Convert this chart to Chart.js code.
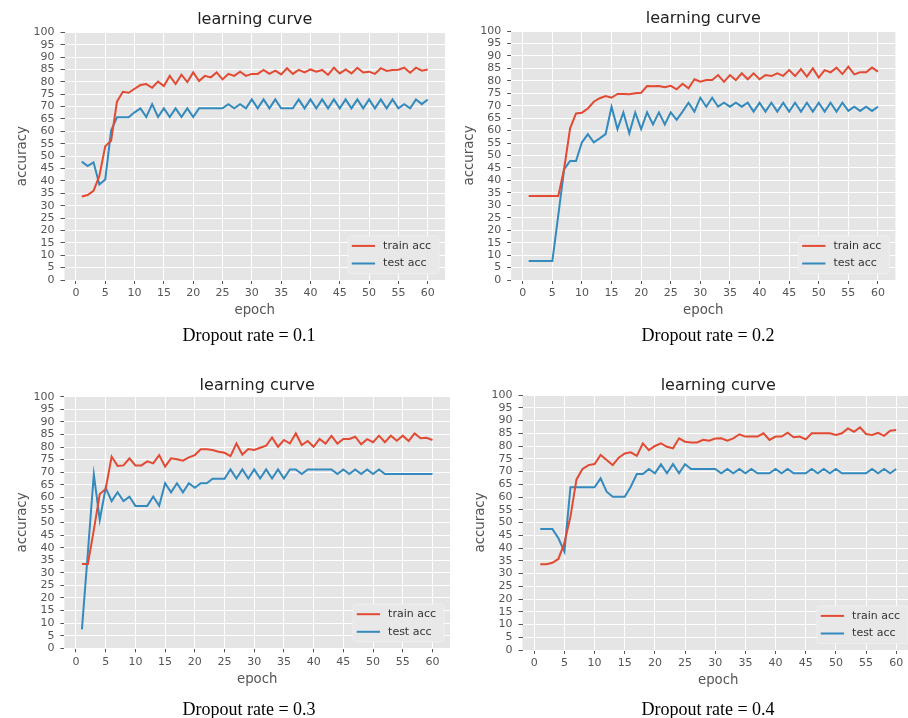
<!DOCTYPE html>
<html><head><meta charset="utf-8">
<script src="https://cdn.jsdelivr.net/npm/chart.js@4.4.0/dist/chart.umd.min.js"></script>
<style>
html,body{margin:0;padding:0;background:#fff;width:908px;height:718px;overflow:hidden;position:relative;}
canvas{position:absolute;left:0;top:0;}
.cap{position:absolute;font-family:"Liberation Serif","Times New Roman",serif;font-size:18px;color:#000;white-space:nowrap;transform:translate(-50%,-50%);}
</style></head><body>
<canvas id="c1" width="1000" height="718" style="width:1000px;height:718px"></canvas>
<canvas id="c2" width="1000" height="718" style="width:1000px;height:718px"></canvas>
<canvas id="c3" width="1000" height="718" style="width:1000px;height:718px"></canvas>
<canvas id="c4" width="1000" height="718" style="width:1000px;height:718px"></canvas>
<div class="cap" style="left:249px;top:335px">Dropout rate = 0.1</div>
<div class="cap" style="left:708px;top:335px">Dropout rate = 0.2</div>
<div class="cap" style="left:249px;top:709px">Dropout rate = 0.3</div>
<div class="cap" style="left:708px;top:709px">Dropout rate = 0.4</div>
<script>
const epochs = [1,2,3,4,5,6,7,8,9,10,11,12,13,14,15,16,17,18,19,20,21,22,23,24,25,26,27,28,29,30,31,32,33,34,35,36,37,38,39,40,41,42,43,44,45,46,47,48,49,50,51,52,53,54,55,56,57,58,59,60];
const xTicks = [0,5,10,15,20,25,30,35,40,45,50,55,60];
const yTicks = [0,5,10,15,20,25,30,35,40,45,50,55,60,65,70,75,80,85,90,95,100];
const seriesLabels = ['train acc','test acc'];
const titleText = 'learning curve';
const xTitle = 'epoch';
const yTitle = 'accuracy';

const train01 = [33.7,34.3,36.0,42.0,54.0,56.2,72.0,76.0,75.6,77.2,78.7,79.1,77.6,80.1,78.3,82.4,79.1,82.9,79.9,83.8,80.3,82.4,81.8,83.8,81.0,83.2,82.4,84.1,82.4,83.2,83.2,84.8,83.2,84.5,83.0,85.5,83.2,84.8,83.8,85.0,84.1,84.8,82.8,85.7,83.4,85.0,83.4,85.7,83.8,84.1,83.2,85.5,84.4,84.8,84.9,85.7,83.7,85.7,84.5,85.0];
const test01 = [47.8,46.0,47.5,38.6,40.6,60.3,65.7,65.7,65.7,67.7,69.3,65.8,71.0,65.8,69.3,65.8,69.3,65.8,69.3,65.8,69.3,69.3,69.3,69.3,69.3,71.0,69.3,71.0,69.3,72.9,69.3,72.9,69.3,72.9,69.3,69.3,69.3,72.9,69.3,72.9,69.3,72.9,69.3,72.9,69.3,72.9,69.3,72.9,69.3,72.9,69.3,72.9,69.3,72.9,69.3,71.0,69.3,72.9,71.0,72.9];

const train02 = [33.7,33.7,33.7,33.7,33.7,33.7,44.8,60.9,66.9,67.2,68.9,71.6,73.0,73.9,73.2,74.7,74.7,74.6,75.0,75.2,77.9,77.8,77.9,77.4,78.0,76.6,78.8,77.0,80.6,79.6,80.3,80.3,82.3,79.6,82.3,80.3,83.0,80.6,83.0,80.6,82.3,81.9,83.0,82.0,84.3,81.9,84.7,81.7,85.0,81.3,84.3,83.4,85.3,82.7,85.7,82.6,83.4,83.4,85.3,83.7];
const test02 = [7.6,7.6,7.6,7.6,7.6,26.0,44.5,47.8,47.8,55.3,58.6,55.3,56.9,58.6,69.6,60.6,67.3,58.9,67.3,60.6,67.3,62.5,67.3,62.5,67.3,64.3,67.6,71.2,67.6,73.2,69.6,73.2,69.6,71.2,69.6,71.2,69.6,71.2,67.6,71.2,67.6,71.2,67.6,71.2,67.6,71.2,67.6,71.2,67.6,71.2,67.6,71.2,67.6,71.2,67.9,69.6,67.9,69.6,67.9,69.6];

const train03 = [33.5,33.5,47.0,61.3,63.3,76.2,72.5,72.7,75.5,72.7,72.7,74.3,73.5,76.8,72.2,75.5,75.1,74.6,75.9,76.8,79.1,79.1,78.8,78.1,77.7,76.4,81.4,77.0,79.2,78.8,79.7,80.5,83.8,80.1,82.8,81.4,85.4,80.8,82.4,80.1,83.2,81.4,84.4,81.4,83.2,83.2,84.1,81.1,83.1,81.9,84.5,81.9,84.5,82.5,84.5,82.4,85.4,83.5,83.7,82.8];
const test03 = [7.5,38.0,69.1,51.0,63.8,58.5,62.0,58.5,60.3,56.6,56.6,56.6,60.3,56.6,65.6,62.0,65.6,62.0,65.6,63.8,65.6,65.6,67.4,67.4,67.4,71.1,67.5,71.1,67.5,71.1,67.5,71.1,67.5,71.1,67.5,71.1,71.1,69.3,71.1,71.1,71.1,71.1,71.1,69.3,71.1,69.3,71.1,69.3,71.1,69.3,71.1,69.3,69.3,69.3,69.3,69.3,69.3,69.3,69.3,69.3];

const train04 = [33.6,33.6,34.2,35.7,42.0,52.3,66.9,71.0,72.5,72.9,76.5,74.5,72.5,75.4,77.1,77.5,76.1,81.0,78.4,80.0,81.0,79.7,79.1,83.0,81.7,81.4,81.4,82.4,82.1,82.9,83.0,82.1,83.0,84.6,83.7,83.7,83.7,85.0,82.4,83.7,83.7,85.2,83.4,83.7,82.6,85.0,85.0,85.0,85.0,84.3,85.0,86.9,85.6,87.3,84.7,84.3,85.2,84.0,86.0,86.3];
const test04 = [47.5,47.5,47.5,43.8,38.6,63.8,63.8,63.8,63.8,63.8,67.3,62.1,60.1,60.1,60.1,64.0,69.0,69.0,71.0,69.3,72.8,69.3,72.9,69.3,72.9,71.0,71.0,71.0,71.0,71.0,69.3,71.0,69.3,71.0,69.3,71.0,69.3,69.3,69.3,71.0,69.3,71.0,69.3,69.3,69.3,71.0,69.3,71.0,69.3,71.0,69.3,69.3,69.3,69.3,69.3,71.0,69.3,71.0,69.3,71.0];

const RED = '#E24A33', BLUE = '#348ABD';
Chart.defaults.font.family = '"DejaVu Sans", sans-serif';
Chart.defaults.animation = false;

const bgPlugin = {
  id: 'axesBg',
  beforeDraw(chart) {
    const {ctx, chartArea: a} = chart;
    ctx.save();
    ctx.fillStyle = '#E5E5E5';
    ctx.fillRect(a.left, a.top, a.right - a.left, a.bottom - a.top);
    ctx.restore();
  }
};

const legendPlugin = {
  id: 'mplLegend',
  afterDatasetsDraw(chart) {
    const {ctx, chartArea: a} = chart;
    const ds = chart.data.datasets;
    ctx.save();
    ctx.font = '11px "DejaVu Sans"';
    const tw = Math.max(...ds.map(d => ctx.measureText(d.label).width));
    const w = 35 + tw + 8, h = 37.6;
    const x = a.right - 6 - w, y = a.bottom - 6.5 - h;
    ctx.beginPath();
    if (ctx.roundRect) ctx.roundRect(x, y, w, h, 3); else ctx.rect(x, y, w, h);
    ctx.fillStyle = '#E8E8E8';
    ctx.fill();
    ctx.strokeStyle = '#EFEFEF';
    ctx.lineWidth = 1;
    ctx.stroke();
    ds.forEach((d, i) => {
      const cy = y + 10 + i * 17.6;
      ctx.beginPath();
      ctx.moveTo(x + 3.7, cy);
      ctx.lineTo(x + 27, cy);
      ctx.strokeStyle = d.borderColor;
      ctx.lineWidth = 2;
      ctx.stroke();
      ctx.fillStyle = '#333';
      ctx.textAlign = 'left';
      ctx.textBaseline = 'middle';
      ctx.fillText(d.label, x + 35, cy);
    });
    ctx.restore();
  }
};

function makeChart(id, train, test, g) {
  const canvasW = 1000, canvasH = 718;
  const yAxisW = 50, xAxisH = 39;
  const titleBottomPad = g.T - g.titleMid - 9.6;
  const pts = arr => epochs.map((e, i) => ({x: e, y: arr[i]}));
  new Chart(document.getElementById(id), {
    type: 'line',
    data: {
      datasets: [
        {label: seriesLabels[0], data: pts(train), borderColor: RED, borderWidth: 2, pointRadius: 0, tension: 0, fill: false},
        {label: seriesLabels[1], data: pts(test), borderColor: BLUE, borderWidth: 2, pointRadius: 0, tension: 0, fill: false}
      ]
    },
    options: {
      responsive: false,
      maintainAspectRatio: false,
      events: [],
      layout: {padding: {left: g.L - yAxisW, top: g.titleMid - 9.6, right: canvasW - g.R, bottom: canvasH - g.B - xAxisH}},
      plugins: {
        legend: {display: false},
        tooltip: {enabled: false},
        title: {display: true, text: titleText, fullSize: false, color: '#222',
          font: {size: 16, weight: 'normal', lineHeight: 1.2}, padding: {top: 0, bottom: Math.max(0, titleBottomPad)}}
      },
      scales: {
        x: {
          type: 'linear', min: -1.95, max: 62.95,
          afterBuildTicks: s => { s.ticks = xTicks.map(v => ({value: v})); },
          afterFit: s => { s.height = xAxisH; },
          ticks: {color: '#555', font: {size: 11}, padding: 3, maxRotation: 0, autoSkip: false},
          grid: {color: '#FFFFFF', lineWidth: 1, tickColor: '#555', tickLength: 4, tickWidth: 1},
          border: {display: false},
          title: {display: true, text: xTitle, color: '#555', font: {size: 13.3}, padding: {top: 0, bottom: 0}}
        },
        y: {
          type: 'linear', min: 0, max: 100,
          afterBuildTicks: s => { s.ticks = yTicks.map(v => ({value: v})); },
          afterFit: s => { s.width = yAxisW; },
          ticks: {color: '#555', font: {size: 11}, padding: 6, autoSkip: false},
          grid: {color: '#FFFFFF', lineWidth: 1, tickColor: '#555', tickLength: 4, tickWidth: 1},
          border: {display: false},
          title: {display: true, text: yTitle, color: '#555', font: {size: 13.3}, padding: {top: 0, bottom: 0}}
        }
      }
    },
    plugins: [bgPlugin, legendPlugin]
  });
}

makeChart('c1', train01, test01, {L: 64.5, T: 32.3, R: 445, B: 280, titleMid: 20});
makeChart('c2', train02, test02, {L: 511.2, T: 31, R: 895.4, B: 280, titleMid: 18.5});
makeChart('c3', train03, test03, {L: 64.4, T: 396.7, R: 450, B: 648.3, titleMid: 385.4});
makeChart('c4', train04, test04, {L: 522.5, T: 395, R: 914, B: 650, titleMid: 385.4});
</script>
</body></html>
